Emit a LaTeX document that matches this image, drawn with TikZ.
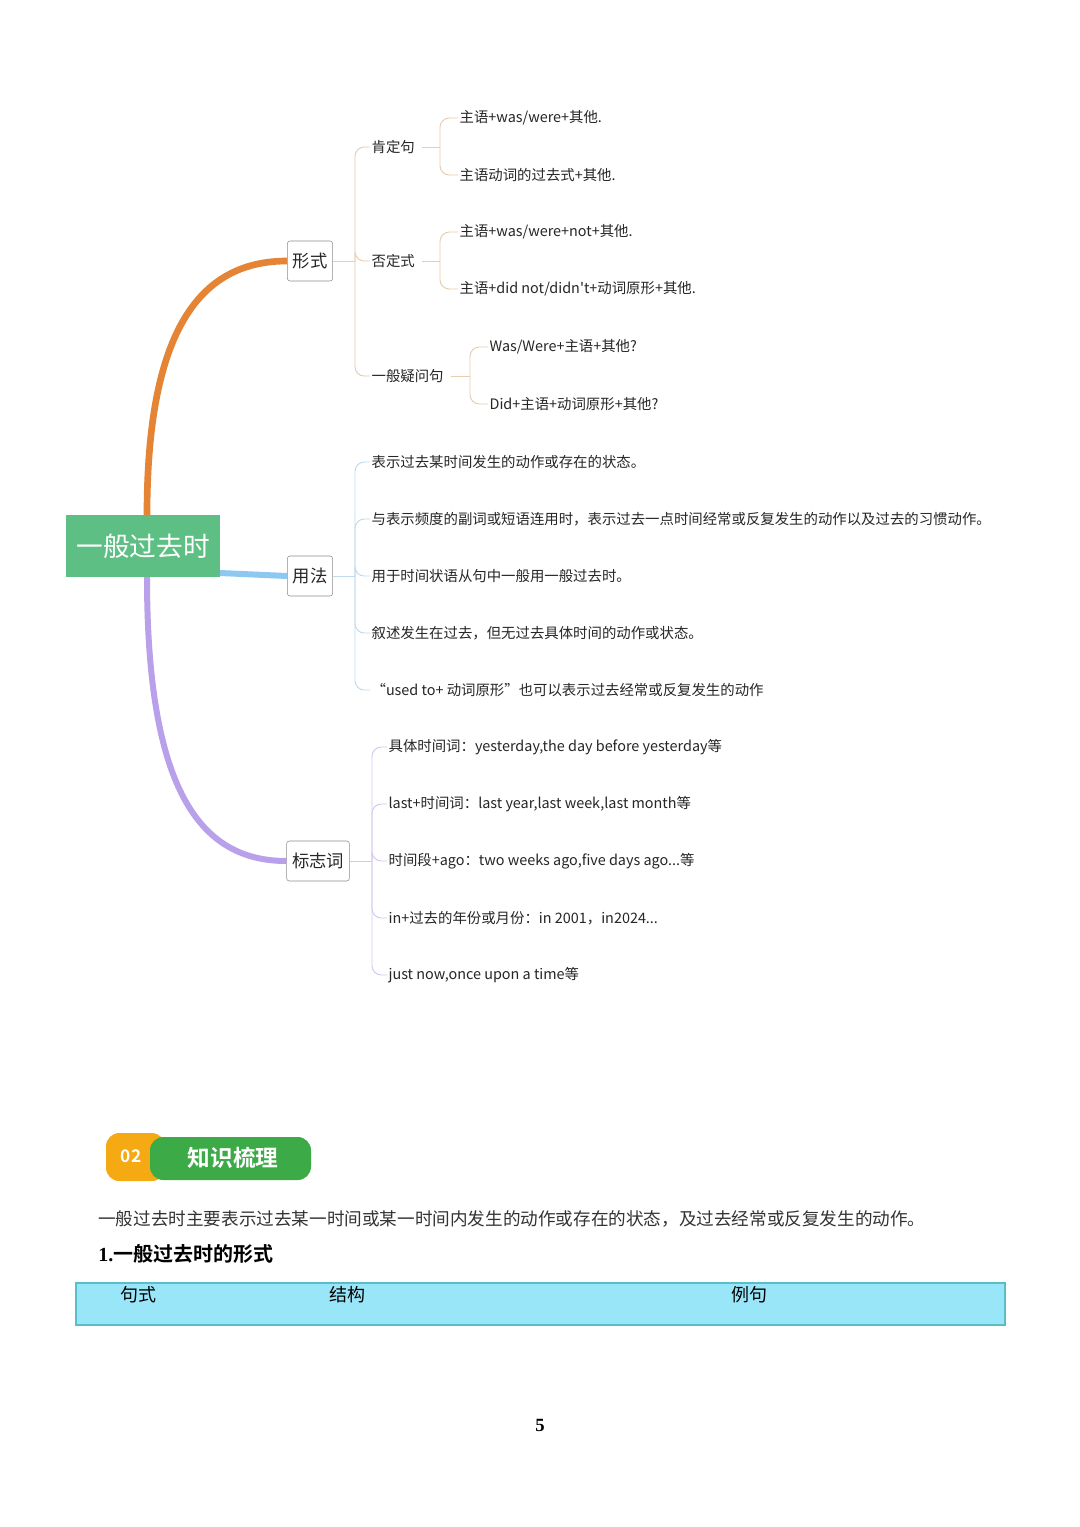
\documentclass[tikz,border=0pt]{standalone}
\usepackage{fontspec}
\setmainfont{Liberation Serif}
\newfontfamily\cjk{Noto Sans CJK SC}
\newfontfamily\cjkb{Noto Sans CJK SC}[BoldFont={Noto Sans CJK SC Bold}]
\begin{document}
\begin{tikzpicture}[x=0.75pt,y=-0.75pt,
  leaf/.style={anchor=west,inner sep=1pt,font=\cjk\fontsize{10.8}{12}\selectfont,text=black!85},
  lbox/.style={draw=black!45,rounded corners=2pt,fill=white,minimum height=30pt,inner sep=4pt,font=\cjk\fontsize{13}{15}\selectfont,text=black!85},
  brk/.style={line width=0.7pt,rounded corners=7pt}]
\useasboundingbox (0,0) rectangle (1080,1527);
\fill[white] (0,0) rectangle (1080,1527);
% root
\node[fill=green!50!teal!60!white,fill=green!45!cyan!20!black!0,minimum width=115pt,minimum height=46pt,inner sep=0pt,text=white,font=\cjk\fontsize{20}{24}\selectfont] (root) at (143,546) {一般过去时};
\fill[fill={rgb,255:red,93;green,191;blue,131}] (66,515) rectangle (220,577);
\node[text=white,font=\cjk\fontsize{20}{24}\selectfont] (rootT) at (143,546) {一般过去时};
% level 1
\node[lbox] (xs) at (310,261) {形式};
\node[lbox] (yf) at (310,576) {用法};
\node[lbox] (bz) at (318,861) {标志词};
\draw[line width=5pt,color={rgb,255:red,228;green,132;blue,52}] (147,515) .. controls (147,330) and (200,261) .. (xs.west);
\draw[line width=4.5pt,color={rgb,255:red,140;green,200;blue,240}] (220,573) -- (yf.west);
\draw[line width=4.5pt,color={rgb,255:red,185;green,160;blue,235}] (147,577) .. controls (147,790) and (200,861) .. (bz.west);
% 形式 children
\node[leaf] (kd) at (370,147) {肯定句};
\node[leaf] (fd) at (370,261) {否定式};
\node[leaf] (yb) at (370,376) {一般疑问句};
\begin{scope}[color={rgb,255:red,232;green,205;blue,175}]
\draw[line width=0.7pt] (xs.east) -- (355,261);
\foreach \n in {kd,fd,yb}{\draw[brk] (355,261) -- (355,0 |- \n.west) -- (\n.west);}
\end{scope}
\node[leaf] (k1) at (458,118) {主语+was/were+其他.};
\node[leaf] (k2) at (458,175) {主语动词的过去式+其他.};
\node[leaf] (f1) at (458,232) {主语+was/were+not+其他.};
\node[leaf] (f2) at (458,289) {主语+did not/didn't+动词原形+其他.};
\node[leaf] (y1) at (488,347) {Was/Were+主语+其他?};
\node[leaf] (y2) at (488,404) {Did+主语+动词原形+其他?};
\begin{scope}[color={rgb,255:red,232;green,205;blue,175}]
\draw[line width=0.7pt] (kd.east)++(6,0) -- (440,147);
\foreach \n in {k1,k2}{\draw[brk] (440,147) -- (440,0 |- \n.west) -- (\n.west);}
\draw[line width=0.7pt] (fd.east)++(6,0) -- (440,261);
\foreach \n in {f1,f2}{\draw[brk] (440,261) -- (440,0 |- \n.west) -- (\n.west);}
\draw[line width=0.7pt] (yb.east)++(6,0) -- (470,376);
\foreach \n in {y1,y2}{\draw[brk] (470,376) -- (470,0 |- \n.west) -- (\n.west);}
\end{scope}
% 用法 children
\node[leaf] (u1) at (370,462) {表示过去某时间发生的动作或存在的状态。};
\node[leaf] (u2) at (370,519) {与表示频度的副词或短语连用时，表示过去一点时间经常或反复发生的动作以及过去的习惯动作。};
\node[leaf] (u3) at (370,576) {用于时间状语从句中一般用一般过去时。};
\node[leaf] (u4) at (370,633) {叙述发生在过去，但无过去具体时间的动作或状态。};
\node[leaf] (u5) at (370,690) {“used to+ 动词原形”也可以表示过去经常或反复发生的动作};
\begin{scope}[color={rgb,255:red,190;green,220;blue,240}]
\draw[line width=0.7pt] (yf.east) -- (355,576);
\foreach \n in {u1,u2,u3,u4,u5}{\draw[brk] (355,576) -- (355,0 |- \n.west) -- (\n.west);}
\end{scope}
% 标志词 children
\node[leaf] (b1) at (387,747) {具体时间词：yesterday,the day before yesterday等};
\node[leaf] (b2) at (387,804) {last+时间词：last year,last week,last month等};
\node[leaf] (b3) at (387,861) {时间段+ago：two weeks ago,five days ago...等};
\node[leaf] (b4) at (387,918) {in+过去的年份或月份：in 2001，in2024...};
\node[leaf] (b5) at (387,975) {just now,once upon a time等};
\begin{scope}[color={rgb,255:red,215;green,200;blue,238}]
\draw[line width=0.7pt] (bz.east) -- (372,861);
\foreach \n in {b1,b2,b3,b4,b5}{\draw[brk] (372,861) -- (372,0 |- \n.west) -- (\n.west);}
\end{scope}
% badge
\fill[color={rgb,255:red,245;green,170;blue,20},rounded corners=10pt] (106,1133) rectangle (165,1181);
\fill[color={rgb,255:red,60;green,170;blue,70},rounded corners=10pt] (150,1137) rectangle (311,1180);
\node[text=white,font=\cjkb\bfseries\fontsize{13}{15}\selectfont] (n02) at (131,1156) {02};
\node[text=white,font=\cjkb\bfseries\fontsize{17}{20}\selectfont] (zs) at (233,1158) {知识梳理};
% text
\node[anchor=west,inner sep=0pt,font=\cjk\fontsize{13.2}{15}\selectfont,text=black!80] (para) at (98,1219) {一般过去时主要表示过去某一时间或某一时间内发生的动作或存在的状态，及过去经常或反复发生的动作。};
\node[anchor=west,inner sep=0pt,font=\bfseries\fontsize{15}{18}\selectfont] (h1) at (98,1254) {1.{\cjkb\bfseries 一般过去时的形式}};
\draw[fill={rgb,255:red,153;green,230;blue,248},draw={rgb,255:red,90;green,190;blue,200},line width=1pt] (76,1283) rectangle (1005,1325);
\node[font=\cjk\fontsize{13.5}{16}\selectfont] (c1) at (138,1295) {句式};
\node[font=\cjk\fontsize{13.5}{16}\selectfont] (c2) at (347,1295) {结构};
\node[font=\cjk\fontsize{13.5}{16}\selectfont] (c3) at (749,1295) {例句};
\node[font=\bfseries\fontsize{14}{16}\selectfont] (pg) at (540,1425) {5};
\end{tikzpicture}
\end{document}
